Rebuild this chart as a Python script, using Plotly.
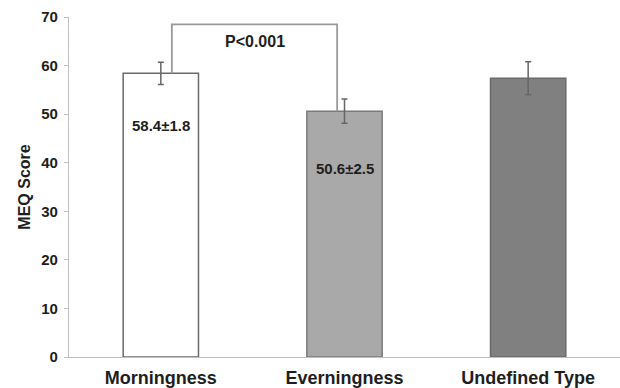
import plotly.graph_objects as go

categories = ["Morningness", "Everningness", "Undefined Type"]
meq_means = [58.4, 50.6, 57.4]
meq_errors = [2.3, 2.5, 3.4]
value_labels = ["58.4±1.8", "50.6±2.5", ""]
y_ticks = [0, 10, 20, 30, 40, 50, 60, 70]
p_label = "P<0.001"
bracket_top = 68.5

fill_colors = ["#ffffff", "#a9a9a9", "#808080"]
line_colors = ["#6a6a6a", "#7a7a7a", "#6a6a6a"]

FONT = "Liberation Sans, Arial"
TXT = "#1e1e1e"

fig = go.Figure()
fig.add_trace(go.Bar(
    x=categories, y=meq_means, width=0.41,
    marker=dict(color=fill_colors, line=dict(color=line_colors, width=1.5)),
    error_y=dict(type="data", array=meq_errors, color="#666666", thickness=1.5, width=3),
    showlegend=False, hoverinfo="skip",
))

# value labels inside bars
shifts = [-52, -57, 0]
for i, (lab, v) in enumerate(zip(value_labels, meq_means)):
    if lab:
        fig.add_annotation(x=i, y=v, text=lab, showarrow=False, yshift=shifts[i],
                           font=dict(family=FONT, size=15, color=TXT, weight="bold"))

# significance bracket
x0, x1 = 0 + 0.06, 1 - 0.04
fig.add_shape(type="path", xref="x", yref="y",
              path=f"M {x0} {meq_means[0]} L {x0} {bracket_top} L {x1} {bracket_top} L {x1} {meq_means[1]}",
              line=dict(color="#999999", width=1.8))
fig.add_annotation(x=(x0 + x1) / 2, y=bracket_top, text=p_label, showarrow=False, yshift=-17,
                   font=dict(family=FONT, size=16, color=TXT, weight="bold"))

fig.update_layout(
    width=620, height=388,
    margin=dict(l=69, r=0, t=17, b=31),
    paper_bgcolor="white", plot_bgcolor="white",
    font=dict(family=FONT, color=TXT),
    xaxis=dict(range=[-0.5, 2.5], showline=True, linecolor="#c0c0c0", linewidth=1.2,
               ticks="", showgrid=False, zeroline=False, ticklabelstandoff=4,
               tickfont=dict(size=18, color=TXT, family=FONT, weight="bold")),
    yaxis=dict(range=[0, 70], tickvals=y_ticks, showline=True, linecolor="#c0c0c0", linewidth=1.2,
               ticks="outside", ticklen=4, tickcolor="#c0c0c0", showgrid=False, zeroline=False,
               ticklabelstandoff=3,
               tickfont=dict(size=15, color=TXT, family=FONT, weight="bold"),
               title=dict(text="MEQ Score", font=dict(size=16, color=TXT, family=FONT, weight="bold"),
                          standoff=6)),
)

fig.write_html("out.html", config={"displayModeBar": False},
               post_script="document.body.style.margin='0';document.body.style.overflow='hidden';")
